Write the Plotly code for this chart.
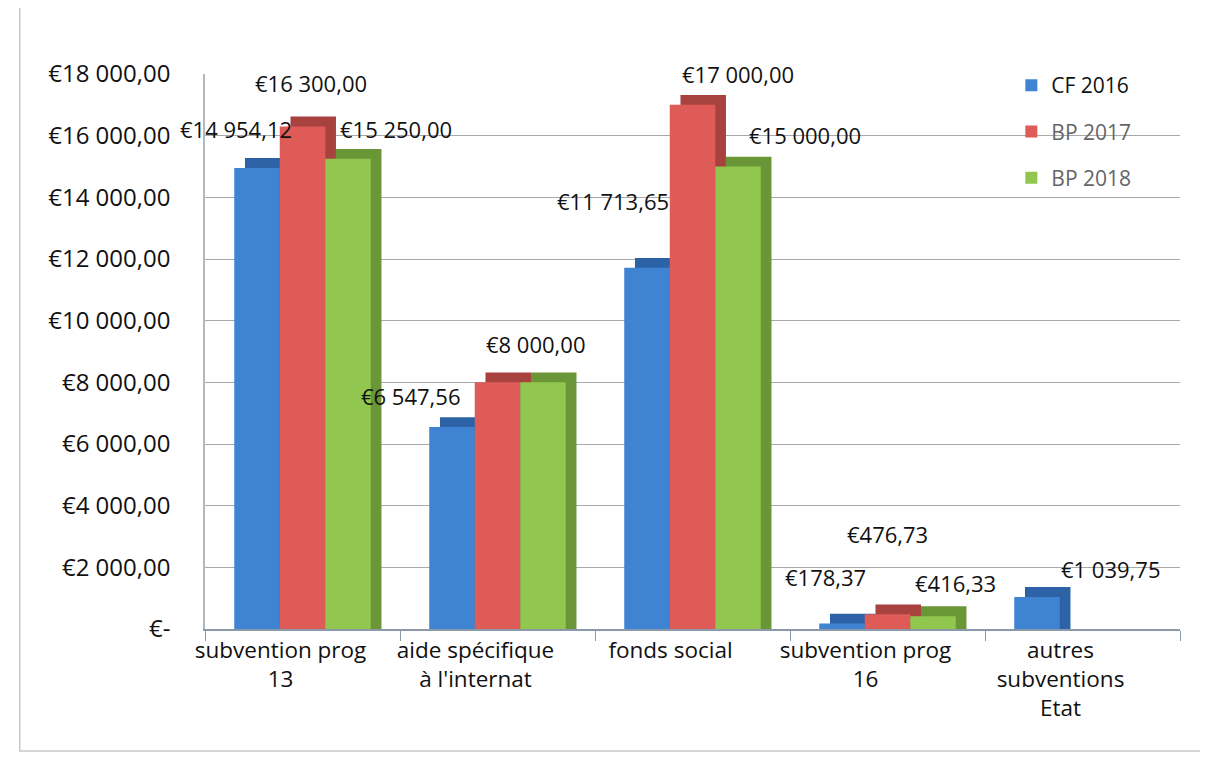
import plotly.graph_objects as go

categories = ["subvention prog<br>13", "aide spécifique<br>à l'internat", "fonds social",
              "subvention prog<br>16", "autres<br>subventions<br>Etat"]
series_names = ["CF 2016", "BP 2017", "BP 2018"]
cf_2016 = [14954.12, 6547.56, 11713.65, 178.37, 1039.75]
bp_2017 = [16300.00, 8000.00, 17000.00, 476.73, None]
bp_2018 = [15250.00, 8000.00, 15000.00, 416.33, None]
tick_values = [0, 2000, 4000, 6000, 8000, 10000, 12000, 14000, 16000, 18000]
tick_labels = ["€-", "€2 000,00", "€4 000,00", "€6 000,00", "€8 000,00", "€10 000,00",
               "€12 000,00", "€14 000,00", "€16 000,00", "€18 000,00"]

def fmt(v):
    s = f"{v:,.2f}".replace(",", " ").replace(".", ",")
    return "€" + s

colors = ["#3f84d3", "#de5b57", "#92c74f"]
depth_colors = ["#2d62a6", "#a8423f", "#6a9638"]
legend_names = ["CF 2016", "<span style='color:#666'>BP 2017</span>",
                "<span style='color:#666'>BP 2018</span>"]
all_series = [cf_2016, bp_2017, bp_2018]

# label pixel offsets (from the category centre / bar top), per series and category
label_dx = [[-67, -87, -80, -62, 28],
            [8, 38, 45, 0, 0],
            [93, 38, 112, 68, 0]]
label_dy = [[39, 31, 67, 47, 28],
            [43, 38, 31, 80, 0],
            [30, 38, 32, 33, 0]]
hidden_labels = {(2, 1)}  # two identical labels coincide in the reference

BAR_W = 0.7 / 3
DEPTH_X = 0.055      # pseudo-3D depth, category units
DEPTH_Y = 320        # pseudo-3D depth, value units

FONT = "Open Sans"
fig = go.Figure()
# back faces (pseudo 3D), drawn first
for i, vals in enumerate(all_series):
    fig.add_trace(go.Bar(
        x=categories, y=[None if v is None else v + DEPTH_Y for v in vals],
        width=BAR_W, offset=-0.35 + i * BAR_W + DEPTH_X, marker_color=depth_colors[i],
        marker_line_width=0, showlegend=False, hoverinfo="skip",
    ))
# front faces
for i, vals in enumerate(all_series):
    fig.add_trace(go.Bar(
        x=categories, y=vals, name=legend_names[i], width=BAR_W,
        offset=-0.35 + i * BAR_W, marker_color=colors[i],
        marker_line_width=0, legendgroup=str(i), hoverinfo="y",
    ))

for i, vals in enumerate(all_series):
    for j, v in enumerate(vals):
        if v is None or (i, j) in hidden_labels:
            continue
        fig.add_annotation(
            x=categories[j], y=v, xref="x", yref="y", text=fmt(v), showarrow=False,
            xanchor="center", yanchor="middle", xshift=label_dx[i][j], yshift=label_dy[i][j],
            font=dict(family=FONT, size=22, color="#111"),
        )

fig.update_layout(
    width=1208, height=763,
    margin=dict(l=197, r=36, t=66, b=142),
    paper_bgcolor="white", plot_bgcolor="white",
    barmode="overlay",
    font=dict(family=FONT, size=22, color="#111"),
    legend=dict(x=0.827, y=1.016, xanchor="left", yanchor="top",
                font=dict(size=21, color="#111"), tracegroupgap=16,
                bgcolor="rgba(0,0,0,0)"),
    xaxis=dict(range=[-0.5, 4.5], autorange=False, automargin=False,
               showgrid=False, showline=True, linecolor="#8a9aa8", linewidth=1.5,
               ticks="outside", ticklen=10, tickcolor="#8a9aa8",
               tickson="boundaries", ticklabelshift=-22,
               tickfont=dict(size=22.5, color="#111")),
    yaxis=dict(range=[0, 18000], autorange=False, automargin=False,
               tickvals=tick_values, ticktext=tick_labels,
               showgrid=True, gridcolor="#a9a9a9", gridwidth=1, zeroline=False,
               showline=True, linecolor="#b0b8c0", linewidth=1.5,
               tickfont=dict(size=24, color="#111"), ticks="", ticklabelstandoff=28),
    showlegend=True,
)
fig.add_shape(type="rect", xref="paper", yref="paper", x0=-0.19, y0=-0.22,
              x1=1.07, y1=1.2, line=dict(color="#c8c8c8", width=1.5))
fig.write_html("out.html")
